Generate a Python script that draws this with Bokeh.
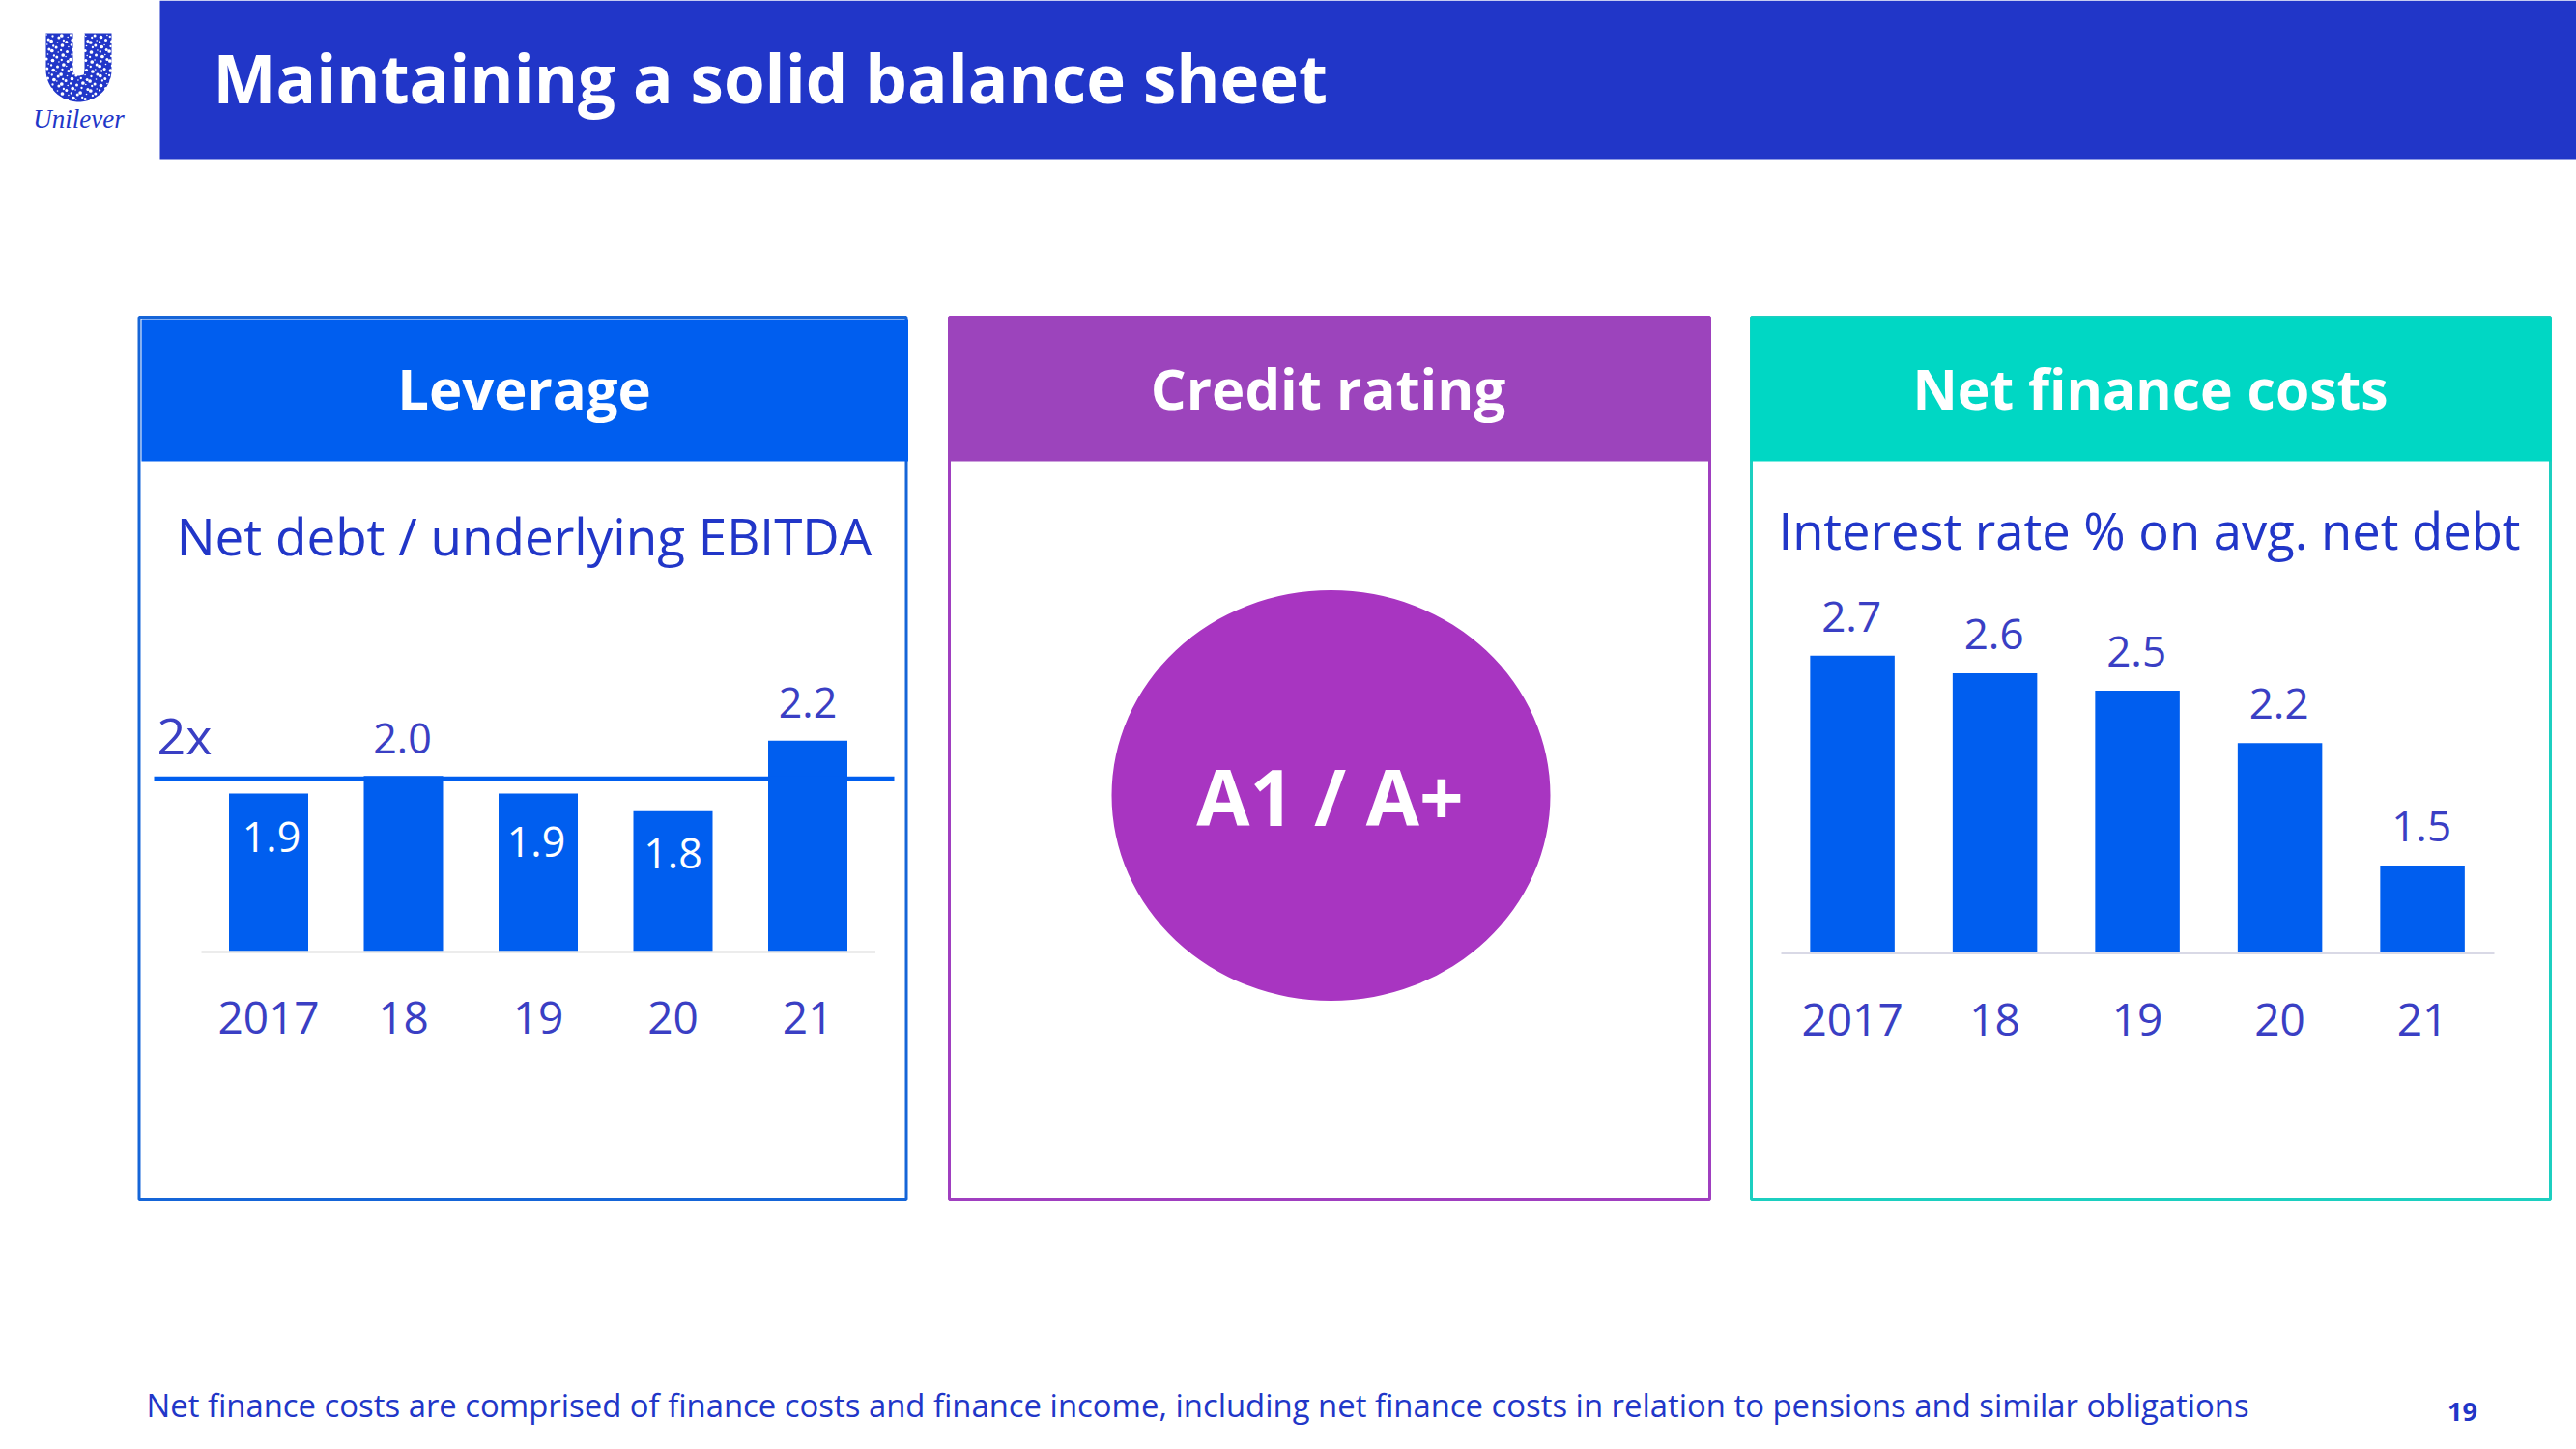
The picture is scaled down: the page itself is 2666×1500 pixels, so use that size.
import numpy as np
from bokeh.plotting import figure
from bokeh.models import Range1d, ColumnDataSource
from bokeh.core.properties import value
from bokeh.embed import file_html
from bokeh.resources import INLINE

# ---- data ----
title = "Maintaining a solid balance sheet"
years = ["2017", "18", "19", "20", "21"]
leverage = [1.9, 2.0, 1.9, 1.8, 2.2]
leverage_labels = ["1.9", "2.0", "1.9", "1.8", "2.2"]
interest = [2.7, 2.6, 2.5, 2.2, 1.5]
interest_labels = ["2.7", "2.6", "2.5", "2.2", "1.5"]
leverage_target = 2.0
panel_titles = ["Leverage", "Credit rating", "Net finance costs"]
rating = "A1 / A+"
footnote = ("Net finance costs are comprised of finance costs and finance income, "
            "including net finance costs in relation to pensions and similar obligations")

# ---- colours ----
NAVY = "#2136C8"
BAR = "#005EEF"
LABEL = "#3A3FC4"
PURPLE = "#9C44BC"
PURPLE_B = "#A03FC0"
CIRCLE = "#A835C1"
TEAL = "#00D7C4"
TEAL_B = "#1CCFC0"
MAIN = "Open Sans"
NUM = "Open Sans"
SHIFT = 0.42   # baseline correction of the text glyph, in em

W, H = 2666, 1500
p = figure(width=W, height=H, x_range=Range1d(0, W), y_range=Range1d(H, 0),
           output_backend="svg", toolbar_location=None, min_border=0, outline_line_color=None,
           background_fill_color="white", border_fill_color="white")
p.axis.visible = False
p.grid.visible = False


def txt(x, y, s, size, color, font=MAIN, style="normal", align="center", **kw):
    p.text(x=[x], y=[y - SHIFT * size], text=[s], text_font=value(font), text_font_style=style,
           text_font_size=f"{size}px", text_color=color, text_align=align,
           text_baseline="alphabetic", **kw)


def add_scales(name, x0, dx, y0, base, k):
    p.extra_x_ranges[name] = Range1d((0 - x0) / dx, (W - x0) / dx)
    p.extra_y_ranges[name] = Range1d(base + (y0 - H) / k, base + y0 / k)


add_scales("lev", 277.5, 139.5, 984, 1.004, 182)
add_scales("int", 1916.6, 147.5, 986, 1.0, 181)

# ---- header ----
p.quad(left=[165], right=[W], top=[0], bottom=[165], fill_color=NAVY, line_color=None)
txt(220, 108, title, 69, "white", style="bold", align="left")

# ---- logo ----
t = np.linspace(np.pi, 0, 30)
ox = 81 + 34 * np.cos(t)
oy = 72 + 33 * np.sin(t)
ix = 81 + 6 * np.cos(t[::-1])
iy = 72 + 6 * np.sin(t[::-1])
p.patch(x=np.r_[47, ox, 115, 87, ix, 75], y=np.r_[34, oy, 34, 34, iy, 34],
        fill_color=NAVY, line_color=None)
gx, gy = np.meshgrid(np.arange(49, 115, 5.0), np.arange(37, 106, 5.0))
k = np.arange(gx.size)
gx = gx.ravel() + (k * 7 % 5) * 0.7 - 1.4
gy = gy.ravel() + (k * 3 % 7) * 0.5 - 1.5
p.scatter(x=gx, y=gy, size=1.6 + (k * 5 % 4) * 0.7, color="white", line_color=None)
txt(81, 134, "Unilever", 27, NAVY, font="Liberation Serif", style="italic")

# ---- panels ----
panels = [(143.5, 937.5, 146, 939.5, BAR, "#1565D8", 542),
          (982, 1769, 981, 1770, PURPLE, PURPLE_B, 1374),
          (1812, 2639, 1811, 2640, TEAL, TEAL_B, 2225)]
for (bl, br, hl, hr, hc, bc, tx), name in zip(panels, panel_titles):
    p.quad(left=[bl], right=[br], top=[328], bottom=[1241], fill_color=None,
           line_color=bc, line_width=3)
    p.quad(left=[hl], right=[hr], top=[330 if hl == 146 else 328], bottom=[477],
           fill_color=hc, line_color=None)
    txt(tx, 425, name, 58 if name != "Net finance costs" else 57, "white", style="bold")

txt(542, 576, "Net debt / underlying EBITDA", 53, NAVY)
txt(2224, 570, "Interest rate % on avg. net debt", 52.5, NAVY)

# ---- credit rating ----
p.ellipse(x=[1377], y=[823], width=454, height=425, fill_color=CIRCLE, line_color=None)
txt(1376, 857, rating, 80, "white", font=NUM, style="bold")

# ---- leverage chart ----
idx = list(range(len(years)))
F1, F2, FT = 43, 44, 46
lev = ColumnDataSource(dict(x=idx, top=leverage, lab=leverage_labels,
                            col=["white", LABEL, "white", "white", LABEL],
                            dx=[3, -1, -2, 0, 0],
                            dy=[d - SHIFT * F1 for d in [63, -21, 68, 62, -21]]))
p.vbar(x="x", width=82 / 139.5, bottom=1.004, top="top", source=lev, fill_color=BAR,
       line_color=None, x_range_name="lev", y_range_name="lev")
p.segment(x0=[208], x1=[905.5], y0=[985], y1=[985], line_color="#D9D9D9", line_width=2)
p.segment(x0=[159], x1=[925], y0=[805.7], y1=[805.7], line_color=BAR, line_width=5)
txt(162, 782, "2x", 52, LABEL, font=NUM, align="left")
p.text(x="x", y="top", text="lab", source=lev, text_color="col", text_font=value(NUM),
       text_font_size=f"{F1}px", text_align="center", text_baseline="alphabetic",
       x_offset="dx", y_offset="dy", x_range_name="lev", y_range_name="lev")
for i, y in enumerate(years):
    p.text(x=[i], y=[1.004], text=[y], text_color=LABEL, text_font=value(NUM),
           text_font_size=f"{FT}px", text_align="center", text_baseline="alphabetic",
           y_offset=88 - SHIFT * FT, x_range_name="lev", y_range_name="lev")

# ---- interest chart ----
rate = ColumnDataSource(dict(x=idx, top=interest, lab=interest_labels))
p.vbar(x="x", width=87.5 / 147.5, bottom=1.0, top="top", source=rate, fill_color=BAR,
       line_color=None, x_range_name="int", y_range_name="int")
p.segment(x0=[1843], x1=[2581], y0=[986.5], y1=[986.5], line_color="#D9D9E6", line_width=2)
p.text(x="x", y="top", text="lab", source=rate, text_color=LABEL, text_font=value(NUM),
       text_font_size=f"{F2}px", text_align="center", text_baseline="alphabetic",
       x_offset=-1, y_offset=-22 - SHIFT * F2, x_range_name="int", y_range_name="int")
for i, y in enumerate(years):
    p.text(x=[i], y=[1.0], text=[y], text_color=LABEL, text_font=value(NUM),
           text_font_size=f"{FT}px", text_align="center", text_baseline="alphabetic",
           y_offset=88 - SHIFT * FT, x_range_name="int", y_range_name="int")

# ---- footer ----
txt(151, 1468, footnote, 32.87, NAVY, align="left")
txt(2548, 1472, "19", 27, NAVY, font=NUM, style="bold")

open("out.html", "w").write(file_html(p, INLINE))
